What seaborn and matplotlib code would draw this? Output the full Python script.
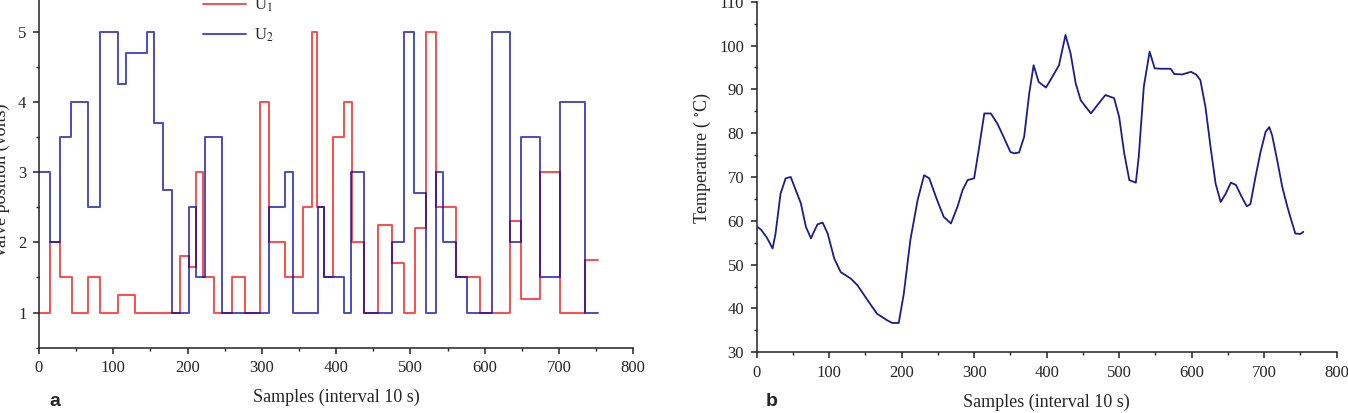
import matplotlib
matplotlib.use("Agg")
import pandas as pd
import matplotlib.pyplot as plt
import seaborn as sns
from matplotlib.ticker import MultipleLocator

# Valve signals: sample where each step starts and the value held until the next step
u1_steps = [0, 15, 28, 44, 66, 82, 107, 129, 190, 202, 212, 221, 235, 260, 277, 298,
            310, 331, 356, 367, 374, 384, 396, 411, 421, 437, 457, 475, 491, 506, 521,
            534, 562, 593, 634, 649, 675, 702, 735]
u1_volts = [1, 2, 1.5, 1, 1.5, 1, 1.25, 1, 1.8, 1.65, 3, 1.5, 1, 1.5, 1, 4,
            2, 1.5, 2.5, 5, 2.5, 1.5, 3.5, 4, 2, 1, 2.25, 1.7, 1, 2.2, 5,
            2.5, 1.5, 1, 2.3, 1.2, 3, 1, 1.75]
u2_steps = [0, 15, 28, 43, 66, 82, 107, 117, 145, 155, 167, 179, 202, 212, 223, 247,
            310, 331, 342, 375, 384, 410, 420, 437, 475, 491, 505, 521, 534, 544, 562,
            576, 610, 634, 649, 675, 702, 735]
u2_volts = [3, 2, 3.5, 4, 2.5, 5, 4.25, 4.7, 5, 3.7, 2.75, 1, 2.5, 1.5, 3.5, 1,
            2.5, 3, 1, 2.5, 1.5, 1, 3, 1, 2, 5, 2.7, 1, 3, 2, 1.5,
            1, 5, 2, 3.5, 1.5, 4, 1]
last_sample = 752

# Temperature response
temp_samples = [1, 6, 14, 22, 26, 33, 40, 47, 54, 61, 68, 75, 79, 84, 91, 98, 107, 116,
                130, 139, 153, 166, 180, 187, 196, 203, 212, 222, 231, 238, 249, 258,
                268, 277, 284, 291, 300, 307, 314, 323, 332, 341, 350, 355, 362, 369,
                376, 382, 389, 399, 408, 417, 426, 433, 440, 447, 461, 470, 481, 493,
                500, 507, 514, 523, 527, 534, 542, 549, 557, 571, 576, 587, 599, 606,
                612, 619, 626, 633, 640, 647, 654, 661, 668, 676, 681, 688, 695, 702,
                707, 711, 718, 725, 732, 738, 743, 750, 754]
temp_values = [58.6, 58.0, 56.2, 53.7, 57.0, 66.2, 69.7, 70.0, 67.0, 64.0, 58.6, 56.0,
               57.5, 59.2, 59.6, 57.1, 51.4, 48.3, 46.8, 45.3, 41.9, 38.8, 37.3, 36.7,
               36.7, 43.4, 55.6, 64.7, 70.4, 69.7, 64.7, 60.9, 59.4, 63.2, 67.0, 69.3,
               69.7, 76.9, 84.5, 84.5, 82.2, 79.0, 75.7, 75.4, 75.6, 79.2, 89.1, 95.5,
               91.7, 90.4, 92.9, 95.5, 102.4, 98.2, 91.4, 87.5, 84.5, 86.4, 88.7, 88.0,
               83.7, 75.4, 69.3, 68.7, 74.6, 90.6, 98.6, 94.8, 94.7, 94.7, 93.5, 93.4,
               94.0, 93.4, 92.1, 86.0, 76.9, 68.5, 64.3, 66.2, 68.7, 68.2, 65.8, 63.3,
               63.8, 70.0, 75.7, 80.3, 81.4, 79.5, 73.8, 67.7, 63.2, 59.8, 57.1, 57.0,
               57.5]

sns.set_style("ticks")
plt.rcParams["font.family"] = ["Liberation Serif", "DejaVu Serif"]
plt.rcParams["mathtext.fontset"] = "stix"
plt.rcParams["axes.linewidth"] = 1.1

# hold the last value until the end of the record
u1_df = pd.DataFrame({"Sample": u1_steps + [last_sample], "Volts": u1_volts + [u1_volts[-1]]})
u2_df = pd.DataFrame({"Sample": u2_steps + [last_sample], "Volts": u2_volts + [u2_volts[-1]]})
temp_df = pd.DataFrame({"Sample": temp_samples, "Temp": temp_values})

fig = plt.figure(figsize=(13.48, 4.13), dpi=100)
ax1 = fig.add_axes([0.0289, 0.1581, 0.4409, 0.8419])
ax2 = fig.add_axes([0.5613, 0.1470, 0.4303, 0.8489])

sns.lineplot(data=u1_df, x="Sample", y="Volts", ax=ax1, drawstyle="steps-post",
             color="red", alpha=0.7, lw=1.4, label="U$_1$")
sns.lineplot(data=u2_df, x="Sample", y="Volts", ax=ax1, drawstyle="steps-post",
             color="#0000aa", alpha=0.7, lw=1.4, label="U$_2$")
ax1.set_xlim(0, 800)
ax1.set_ylim(0.5, 5.45)
ax1.xaxis.set_major_locator(MultipleLocator(100))
ax1.xaxis.set_minor_locator(MultipleLocator(50))
ax1.yaxis.set_major_locator(MultipleLocator(1))
ax1.yaxis.set_minor_locator(MultipleLocator(0.5))
ax1.set_xlabel("Samples (interval 10 s)", fontsize=13, labelpad=9)
ax1.set_ylabel("Valve position (volts)", fontsize=13)
ax1.yaxis.set_label_coords(-0.049, 0.48)
ax1.legend(loc="upper left", bbox_to_anchor=(0.265, 1.028), frameon=False, fontsize=12,
           handlelength=2.6, handletextpad=0.45, labelspacing=0.75, borderaxespad=0)

sns.lineplot(data=temp_df, x="Sample", y="Temp", ax=ax2, color="#1c1c8c", lw=1.3)
ax2.set_xlim(0, 800)
ax2.set_ylim(30, 110)
ax2.xaxis.set_major_locator(MultipleLocator(100))
ax2.xaxis.set_minor_locator(MultipleLocator(50))
ax2.yaxis.set_major_locator(MultipleLocator(10))
ax2.yaxis.set_minor_locator(MultipleLocator(5))
ax2.set_xlabel("Samples (interval 10 s)", fontsize=13, labelpad=9)
ax2.set_ylabel("Temperature ( $^{\\circ}$C)", fontsize=13)
ax2.yaxis.set_label_coords(-0.075, 0.554)

for ax in (ax1, ax2):
    sns.despine(ax=ax)
    ax.tick_params(which="major", length=4, width=1.1, labelsize=12, pad=5, color="#222222")
    ax.tick_params(which="minor", length=2.5, width=1.0, color="#222222")
    for s in ax.spines.values():
        s.set_color("#222222")

fig.text(55 / 1348, 1 - 401 / 413, "a", fontsize=14, fontweight="bold",
         family="Liberation Sans", ha="center", va="center")
fig.text(772 / 1348, 1 - 401 / 413, "b", fontsize=14, fontweight="bold",
         family="Liberation Sans", ha="center", va="center")

fig.savefig("out.png", dpi=100)
